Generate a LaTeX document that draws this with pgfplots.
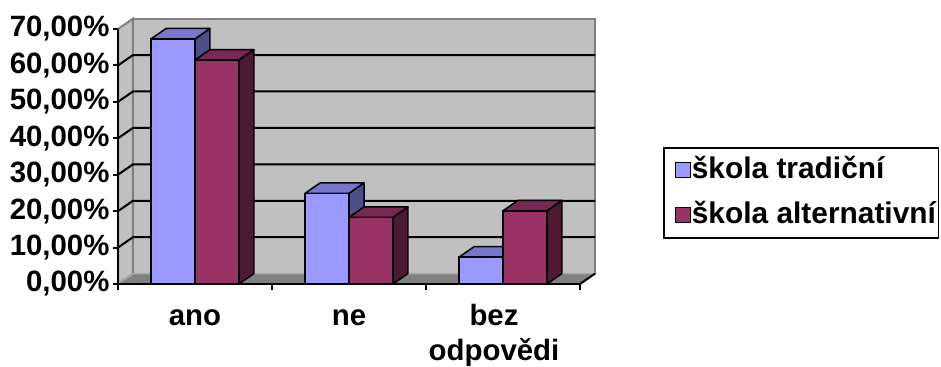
\documentclass[border=0pt]{standalone}
\usepackage{fontspec}
\setmainfont{Liberation Sans}
\usepackage{pgfplots}
\usepackage{pgfplotstable}
\pgfplotsset{compat=1.18}

\definecolor{tradF}{RGB}{153,153,255}
\definecolor{tradT}{RGB}{118,118,204}
\definecolor{tradS}{RGB}{78,78,136}
\definecolor{altF}{RGB}{153,51,102}
\definecolor{altT}{RGB}{120,40,82}
\definecolor{altS}{RGB}{77,26,52}
\definecolor{wall}{RGB}{192,192,192}
\definecolor{floorc}{RGB}{128,128,128}
\definecolor{edge}{RGB}{128,128,128}
\definecolor{flooredge}{RGB}{170,170,170}

\pgfplotstableread{
x trad alt
0 67.3 61.5
1 24.9 18.3
2 7.4 20.1
}\data

\def\dx{0.0974}
\def\dy{2.85}
\def\bw{0.285}

\newcommand\cubefaces[4]{%
  \pgfmathsetmacro\cR{#1+\bw}%
  \pgfmathsetmacro\cRd{#1+\bw+\dx}%
  \pgfmathsetmacro\cLd{#1+\dx}%
  \pgfmathsetmacro\cVd{#2+\dy}%
  \edef\cubetmp{%
    \noexpand\addplot[forget plot, fill=#4, draw=black, line width=1.5bp, line join=round]
      coordinates {(\cR,0) (\cR,#2) (\cRd,\cVd) (\cRd,\dy) (\cR,0)};
    \noexpand\addplot[forget plot, fill=#3, draw=black, line width=1.5bp, line join=round]
      coordinates {(#1,#2) (\cR,#2) (\cRd,\cVd) (\cLd,\cVd) (#1,#2)};
  }%
  \cubetmp
}
\newcommand\seriesfaces[4]{%
  \pgfplotsforeachungrouped \i in {0,1,2}{%
    \pgfplotstablegetelem{\i}{#1}\of\data
    \let\cV\pgfplotsretval
    \pgfmathsetmacro\cL{\i+#2}%
    \cubefaces{\cL}{\cV}{#3}{#4}%
  }%
}

\begin{document}
\begin{tikzpicture}
\useasboundingbox (0,0) rectangle (941bp,367bp);
\begin{axis}[
  at={(118bp,83bp)}, anchor=south west,
  scale only axis, width=462bp, height=255bp,
  xmin=-0.5, xmax=2.5, ymin=0, ymax=70,
  clip=false, axis on top,
  axis x line*=bottom, axis y line*=left,
  axis line style={black, line width=2bp, -},
  ytick={0,10,20,30,40,50,60,70},
  yticklabel={\pgfmathprintnumber[fixed,fixed zerofill,precision=2,use comma]{\tick}\%},
  /pgf/number format/assume math mode=true,
  xtick={0,1},
  xticklabels={ano,ne},
  extra x ticks={2},
  extra x tick labels={bez\\odpovědi},
  extra x tick style={major x tick style={draw=none}, xticklabel style={xshift=-9bp}},
  minor xtick={-0.5,0.5,1.5,2.5},
  tick align=outside,
  major tick length=5bp, minor tick length=6bp,
  tick style={black, line width=2bp},
  major x tick style={draw=none},
  tick label style={font=\bfseries\fontsize{29.5}{35}\selectfont},
  xticklabel style={align=center, yshift=-12bp, execute at begin node={\vphantom{bd}}},
  legend style={at={(axis description cs:1.18,0.537)}, anchor=north west,
    draw=black, line width=1.5bp, fill=white,
    font=\bfseries\fontsize{30}{35}\selectfont,
    inner xsep=2bp, inner ysep=8.5bp, row sep=17bp,
    nodes={text height=22bp, text depth=6bp, inner ysep=0bp, inner xsep=0.5bp},
    /tikz/every even column/.append style={column sep=0bp}},
  legend cell align=left,
]
% walls
\addplot[forget plot, fill=wall, draw=edge, line width=2bp]
  coordinates {(-0.4026,2.85) (2.5974,2.85) (2.5974,72.85) (-0.4026,72.85) (-0.4026,2.85)};
\addplot[forget plot, fill=wall, draw=edge, line width=2bp]
  coordinates {(-0.5,0) (-0.4026,2.85) (-0.4026,72.85) (-0.5,70) (-0.5,0)};
\addplot[forget plot, fill=floorc, draw=flooredge, line width=1.5bp]
  coordinates {(-0.5,0) (2.5,0) (2.5974,2.85) (-0.4026,2.85) (-0.5,0)};
\addplot[forget plot, black, line width=2bp] coordinates {(2.5,0) (2.5974,2.85)};
\pgfplotsforeachungrouped \g in {10,20,30,40,50,60}{%
  \pgfmathsetmacro\gd{\g+\dy}%
  \edef\gtmp{\noexpand\addplot[forget plot, black, line width=2bp]
    coordinates {(-0.5,\g) (-0.4026,\gd) (2.5974,\gd)};}%
  \gtmp
}
% series 1
\seriesfaces{trad}{-0.285}{tradT}{tradS}
\addplot[ybar, bar width=0.285, bar shift=-0.1425, fill=tradF, draw=black, line width=1.5bp,
  legend image code/.code={\path (0bp,0bp); \draw[fill=tradF,draw=black,line width=1.3bp] (9bp,-7.5bp) rectangle (24bp,7.5bp);}]
  table[x=x,y=trad]{\data};
\addlegendentry{škola tradiční}
% series 2
\seriesfaces{alt}{0}{altT}{altS}
\addplot[ybar, bar width=0.285, bar shift=0.1425, fill=altF, draw=black, line width=1.5bp,
  legend image code/.code={\path (0bp,0bp); \draw[fill=altF,draw=black,line width=1.3bp] (9bp,-7.5bp) rectangle (24bp,7.5bp);}]
  table[x=x,y=alt]{\data};
\addlegendentry{škola alternativní}
\end{axis}
\end{tikzpicture}
\end{document}
